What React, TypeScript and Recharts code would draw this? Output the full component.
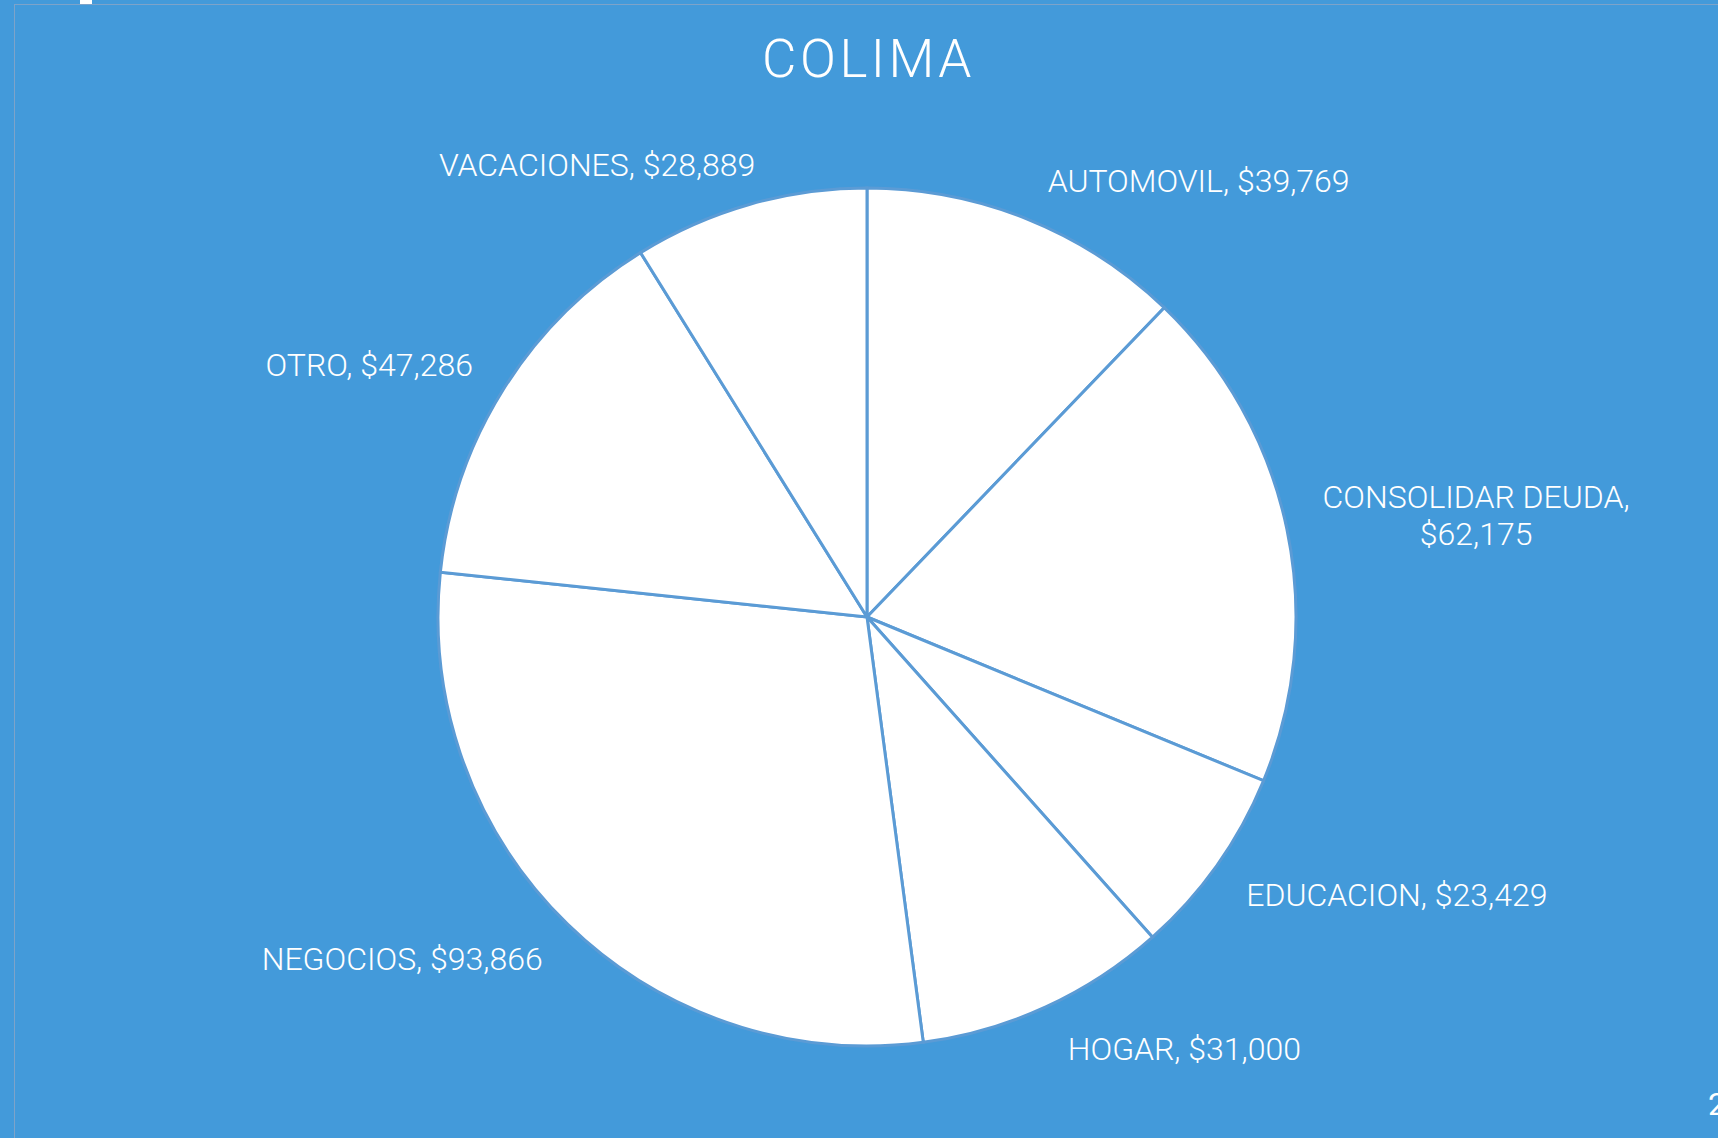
import React from 'react';
import { PieChart, Pie, Cell } from 'recharts';

const categories = ['AUTOMOVIL', 'CONSOLIDAR DEUDA', 'EDUCACION', 'HOGAR', 'NEGOCIOS', 'OTRO', 'VACACIONES'];
const amounts = [39769, 62175, 23429, 31000, 93866, 47286, 28889];
const title = 'COLIMA';
const pageNumber = '2';

const BG = '#439ADA';
const EDGE = '#5B9BD5';
const FONT = 'Roboto, "Open Sans", sans-serif';
const RADIAN = Math.PI / 180;

const data = categories.map((name, i) => ({ name, value: amounts[i] }));

function money(v: number) {
  return '$' + v.toLocaleString('en-US');
}

function renderLabel(props: any) {
  const { cx, cy, midAngle, outerRadius, name, value } = props;
  const r = outerRadius + 36;
  const dx = Math.cos(-midAngle * RADIAN);
  const dy = Math.sin(-midAngle * RADIAN);
  let x = cx + r * dx;
  const y = cy + r * dy;
  const common = {
    fill: '#ffffff',
    fontFamily: FONT,
    fontWeight: 300,
    fontSize: 32,
  };

  // long names wrap onto two centred lines, like the original
  if (name.length > 12) {
    const l1 = `${name},`;
    const l2 = money(value);
    const w = 308;
    const mid = dx >= 0 ? x + w / 2 : x - w / 2;
    return (
      <text {...common} textAnchor="middle">
        <tspan x={mid} y={y - 13}>{l1}</tspan>
        <tspan x={mid} y={y + 24}>{l2}</tspan>
      </text>
    );
  }

  // labels near the top/bottom sit a little to the right, as Excel does
  if (Math.abs(dx) < 0.45) x += dx < 0 ? 16 : 7;

  let baseline = y + 6;
  if (dy > 0.35) baseline = y + 20;
  else if (dy >= -0.35) baseline = y + 11;

  return (
    <text {...common} x={x} y={baseline} textAnchor={dx >= 0 ? 'start' : 'end'}>
      {`${name}, ${money(value)}`}
    </text>
  );
}

export default function App() {
  return (
    <div
      style={{
        position: 'absolute',
        left: 0,
        top: 0,
        width: 1718,
        height: 1138,
        background: BG,
        overflow: 'hidden',
      }}
    >
      {/* faint slide frame */}
      <div style={{ position: 'absolute', left: 14, top: 4, width: 1718, height: 1200, borderLeft: '1px solid #7da3c9', borderTop: '1px solid #7da3c9' }} />
      <div style={{ position: 'absolute', left: 80, top: 0, width: 12, height: 4, background: '#ffffff' }} />

      <div
        style={{
          position: 'absolute',
          left: 0,
          top: 27,
          width: 1737,
          textAlign: 'center',
          color: '#ffffff',
          fontFamily: FONT,
          fontWeight: 300,
          fontSize: 53,
          letterSpacing: 3.5,
          lineHeight: '64px',
        }}
      >
        {title}
      </div>

      <div style={{ position: 'absolute', left: 0, top: 0 }}>
        <PieChart width={1718} height={1138} margin={{ top: 0, right: 0, bottom: 0, left: 0 }}>
          <Pie
            data={data}
            dataKey="value"
            nameKey="name"
            cx={867}
            cy={617}
            outerRadius={429}
            startAngle={90}
            endAngle={-270}
            stroke={EDGE}
            strokeWidth={3}
            label={renderLabel}
            labelLine={false}
            isAnimationActive={false}
          >
            {data.map((d) => (
              <Cell key={d.name} fill="#ffffff" stroke={EDGE} strokeWidth={3} />
            ))}
          </Pie>
        </PieChart>
      </div>

      <div
        style={{
          position: 'absolute',
          left: 1708,
          top: 1084,
          color: '#ffffff',
          fontFamily: FONT,
          fontSize: 32,
          lineHeight: '40px',
        }}
      >
        {pageNumber}
      </div>
    </div>
  );
}
